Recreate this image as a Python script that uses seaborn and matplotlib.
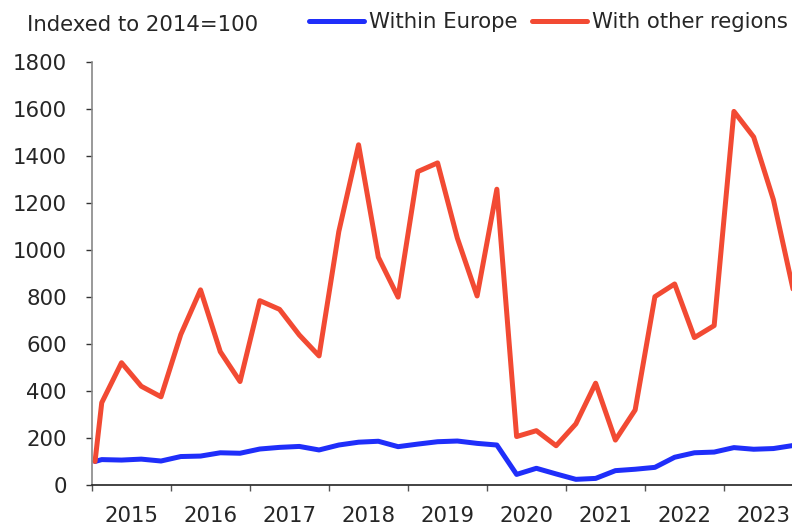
import matplotlib
matplotlib.use('Agg')
import matplotlib.pyplot as plt
import matplotlib.ticker as mticker
import seaborn as sns
import pandas as pd

# quarterly index values, 2014=100 (first entry is the base point)
years = list(range(2015, 2024))
within_europe = [100,
                 108, 106, 110, 102,
                 121, 123, 137, 135,
                 153, 160, 164, 149,
                 170, 182, 186, 163,
                 174, 184, 187, 177,
                 170, 45, 71, 47,
                 24, 28, 61, 67,
                 75, 118, 137, 140,
                 159, 152, 155, 168]
other_regions = [100,
                 350, 520, 420, 375,
                 640, 830, 567, 440,
                 784, 747, 638, 549,
                 1078, 1447, 969, 799,
                 1333, 1370, 1050, 804,
                 1258, 206, 231, 167,
                 260, 433, 191, 319,
                 801, 855, 627, 678,
                 1589, 1480, 1213, 830]
series_names = ['Within Europe', 'With other regions']
colors = ['#1f2efa', '#f24a33']

# base point sits just after the start of 2015, quarters at mid-quarter
xpos = [2015.04] + [y + (q - 0.5) / 4 for y in years for q in range(1, 5)]

df = pd.concat([
    pd.DataFrame({'x': xpos, 'value': within_europe, 'series': series_names[0]}),
    pd.DataFrame({'x': xpos, 'value': other_regions, 'series': series_names[1]}),
])

sns.set_style('white')
plt.rcParams['font.family'] = ['DejaVu Sans']
fs = 15.3

fig = plt.figure(figsize=(7.92, 5.29), dpi=100)
ax = fig.add_axes([0.116, 0.0832, 0.884, 0.800])
sns.lineplot(data=df, x='x', y='value', hue='series', palette=colors,
             linewidth=3.6, ax=ax, legend=False)

ax.set_xlim(2015, 2023.86)
ax.set_ylim(0, 1800)
ax.yaxis.set_major_locator(mticker.MultipleLocator(200))
ax.xaxis.set_major_locator(mticker.FixedLocator(list(range(2015, 2025))))
ax.xaxis.set_major_formatter(mticker.NullFormatter())
ax.xaxis.set_minor_locator(mticker.FixedLocator([y + 0.5 for y in years]))
ax.xaxis.set_minor_formatter(mticker.FixedFormatter([str(y) for y in years]))
ax.tick_params(axis='x', which='major', bottom=True, length=4.5, width=1, color='#555555', direction='out')
ax.tick_params(axis='x', which='minor', bottom=True, length=0, labelsize=fs, pad=15)
ax.tick_params(axis='y', left=True, length=4, width=1, color='#333333', labelsize=fs, pad=14, direction='out')
ax.set_xlabel('')
ax.set_ylabel('')
sns.despine(ax=ax)
ax.spines['left'].set_color('#888888')
ax.spines['bottom'].set_color('#222222')
ax.spines['left'].set_linewidth(1.2)
ax.spines['bottom'].set_linewidth(1.2)

fig.text(0.034, 0.953, 'Indexed to 2014=100', fontsize=fs, va='center', ha='left')

handles = [plt.Line2D([], [], color=c, linewidth=3.6, solid_capstyle='round') for c in colors]
fig.legend(handles, series_names, loc='center right', bbox_to_anchor=(1.005, 0.958),
           ncol=2, frameon=False, fontsize=fs, handlelength=2.6, handletextpad=0.2,
           columnspacing=0.7, borderaxespad=0)

fig.savefig('out.png', dpi=100)
